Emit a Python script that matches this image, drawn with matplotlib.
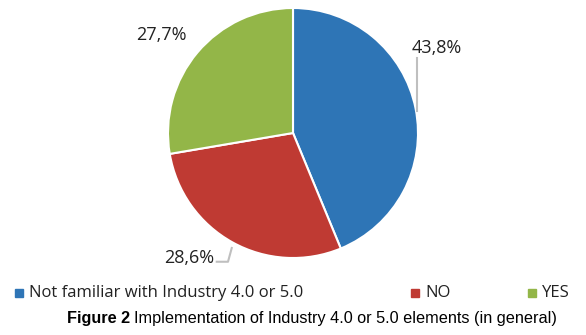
import matplotlib
matplotlib.use("Agg")
import matplotlib.pyplot as plt
from matplotlib.patches import Rectangle

# shares of respondents
categories = ["Not familiar with Industry 4.0 or 5.0", "NO", "YES"]
shares = [43.8, 28.6, 27.7]
colors = ["#2E75B6", "#BF3A33", "#93B648"]

W, H = 586, 335
fig = plt.figure(figsize=(W / 100, H / 100), dpi=100)

# pie axes, centre (293, 133) px from top, radius 125 px
cx, cy, r = 293, 133, 125
ax = fig.add_axes([(cx - r) / W, (H - cy - r) / H, 2 * r / W, 2 * r / H])
wedges, _ = ax.pie(shares, colors=colors, startangle=90, counterclock=False,
                   radius=1, wedgeprops=dict(edgecolor="white", linewidth=1.5))
ax.set_xlim(-1, 1)
ax.set_ylim(-1, 1)
ax.set_aspect("equal")
ax.axis("off")

def fmt(v):
    return f"{v:.1f}%".replace(".", ",")

lab_font = dict(family="Open Sans", fontsize=13, color="#222222")
# label positions and leader lines, in axes data units
label_pos = [(1.15, 0.68), (-0.83, -1.0), (-1.05, 0.78)]
leaders = [
    [(0.99, 0.60), (0.99, 0.18)],
    [(-0.61, -1.03), (-0.52, -1.03), (-0.49, -0.92)],
    None,
]
for v, (x, y), ld in zip(shares, label_pos, leaders):
    ax.text(x, y, fmt(v), ha="center", va="center", clip_on=False, **lab_font)
    if ld:
        xs, ys = zip(*ld)
        ax.plot(xs, ys, color="#BFBFBF", lw=1.5, clip_on=False)

# legend row
leg_x = [19, 415, 532]
leg_y = 293
for name, c, lx in zip(categories, colors, leg_x):
    fig.patches.append(Rectangle(((lx - 4) / W, (H - leg_y - 4) / H), 8 / W, 8 / H,
                                 transform=fig.transFigure, color=c))
    fig.text((lx + 10) / W, (H - leg_y) / H, name, ha="left", va="center",
             family="Open Sans", fontsize=12, color="#222222")

# caption
cap_y = (H - 318) / H
t1 = fig.text(67 / W, cap_y, "Figure 2", ha="left", va="center",
              family="Liberation Sans", fontweight="bold", fontsize=11.7)
fig.canvas.draw()
bb = t1.get_window_extent()
fig.text((bb.x1 + 4) / W, cap_y,
         "Implementation of Industry 4.0 or 5.0 elements (in general)",
         ha="left", va="center", family="Liberation Sans", fontsize=11.7)

fig.savefig("out.png", dpi=100)
